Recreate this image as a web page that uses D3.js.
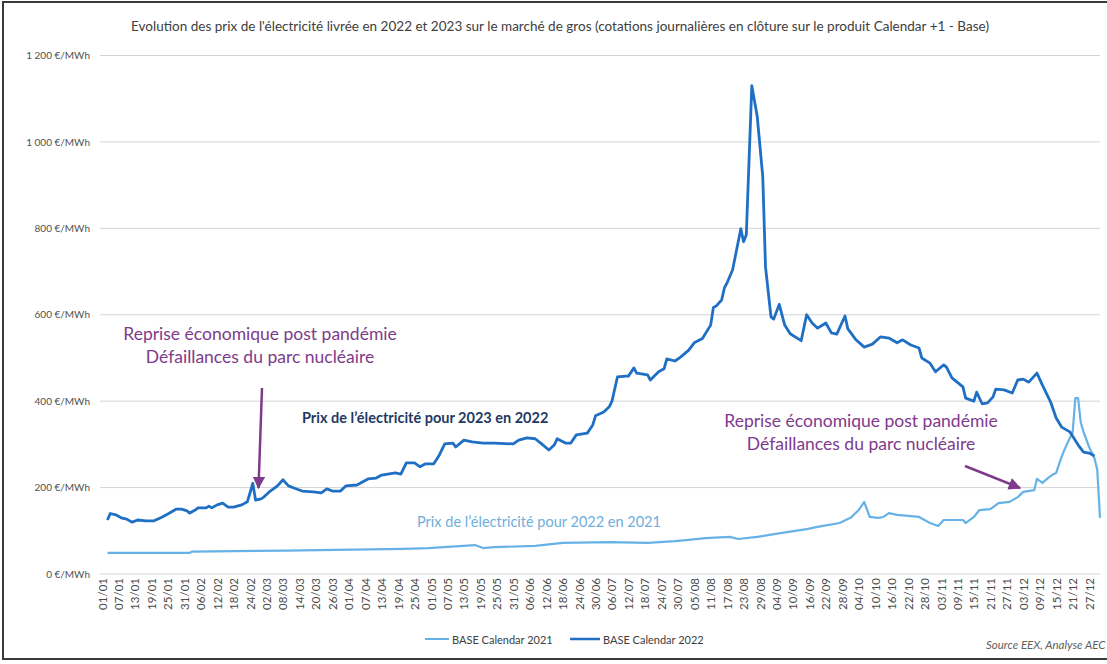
<!DOCTYPE html>
<html><head><meta charset="utf-8">
<script src="https://cdn.jsdelivr.net/npm/d3@7/dist/d3.min.js"></script>
<style>
body{margin:0;background:#fff;}
svg{display:block;font-family:Lato,'Open Sans',sans-serif;}
</style></head>
<body><svg id="chart" width="1107" height="664"></svg>
<script>
const chartTitle = "Evolution des prix de l'électricité livrée en 2022 et 2023 sur le marché de gros (cotations journalières en clôture sur le produit Calendar +1 - Base)";
const yTickValues = [0, 200, 400, 600, 800, 1000, 1200];
const yTickLabels = ["0 €/MWh", "200 €/MWh", "400 €/MWh", "600 €/MWh", "800 €/MWh", "1 000 €/MWh", "1 200 €/MWh"];
const xTickLabels = ["01/01","07/01","13/01","19/01","25/01","31/01","06/02","12/02","18/02","24/02","02/03","08/03","14/03","20/03","26/03","01/04","07/04","13/04","19/04","25/04","01/05","07/05","13/05","19/05","25/05","31/05","06/06","12/06","18/06","24/06","30/06","06/07","12/07","18/07","24/07","30/07","05/08","11/08","17/08","23/08","29/08","04/09","10/09","16/09","22/09","28/09","04/10","10/10","16/10","22/10","28/10","03/11","09/11","15/11","21/11","27/11","03/12","09/12","15/12","21/12","27/12"];
const seriesNames = ["BASE Calendar 2021", "BASE Calendar 2022"];

// BASE Calendar 2022 (prix 2023 coté en 2022)
const cal2022Dates = ["03/01","04/01","06/01","08/01","10/01","12/01","14/01","17/01","20/01","23/01","25/01","28/01","30/01","01/02","02/02","04/02","05/02","08/02","09/02","10/02","12/02","14/02","16/02","18/02","21/02","23/02","24/02","25/02","26/02","28/02","01/03","03/03","06/03","08/03","10/03","12/03","15/03","19/03","22/03","24/03","26/03","29/03","31/03","04/04","08/04","11/04","13/04","18/04","20/04","22/04","25/04","27/04","29/04","02/05","04/05","06/05","09/05","10/05","13/05","16/05","20/05","24/05","31/05","02/06","05/06","08/06","10/06","13/06","15/06","16/06","19/06","21/06","23/06","27/06","29/06","30/06","03/07","05/07","06/07","08/07","11/07","12/07","14/07","15/07","19/07","20/07","23/07","25/07","26/07","29/07","31/07","03/08","05/08","08/08","11/08","12/08","13/08","15/08","16/08","17/08","19/08","22/08","23/08","24/08","26/08","28/08","30/08","31/08","02/09","03/09","05/09","07/09","09/09","13/09","15/09","17/09","19/09","22/09","24/09","26/09","29/09","30/09","03/10","06/10","09/10","12/10","15/10","18/10","20/10","23/10","26/10","27/10","30/10","01/11","04/11","05/11","07/11","11/11","12/11","15/11","16/11","18/11","20/11","22/11","23/11","26/11","29/11","01/12","03/12","05/12","08/12","10/12","13/12","15/12","17/12","20/12","23/12","25/12","27/12","29/12"];
const cal2022Values = [125,140,137,130,127,120,125,123,123,132,139,150,150,146,141,148,153,153,157,153,160,164,155,155,160,167,188,210,171,174,178,190,204,218,204,199,192,190,188,197,192,192,204,206,220,222,229,234,231,257,257,248,255,255,275,301,303,294,310,306,303,303,301,310,315,313,303,287,299,313,303,303,322,326,345,366,375,387,400,456,458,458,477,465,461,449,468,475,498,493,502,518,535,545,576,617,620,634,662,674,704,799,769,785,1130,1058,919,711,595,590,624,576,556,540,600,581,569,581,558,555,597,568,542,525,532,549,546,535,542,530,523,500,488,468,484,479,454,433,407,400,421,394,396,410,428,426,419,449,451,444,465,437,398,361,340,329,299,282,280,273];

// BASE Calendar 2021 (prix 2022 coté en 2021)
const cal2021Dates = ["03/01","02/02","03/02","09/03","21/04","30/04","17/05","20/05","24/05","08/06","18/06","05/07","19/07","29/07","03/08","09/08","18/08","21/08","28/08","06/09","15/09","19/09","27/09","01/10","04/10","06/10","08/10","11/10","13/10","15/10","18/10","23/10","26/10","30/10","02/11","04/11","07/11","11/11","12/11","15/11","17/11","21/11","24/11","28/11","01/12","03/12","07/12","08/12","10/12","12/12","14/12","15/12","17/12","18/12","20/12","21/12","22/12","23/12","24/12","25/12","27/12","29/12","30/12","31/12"];
const cal2021Values = [49,49,52,54,58,60,67,60,62,65,72,74,72,76,79,83,86,81,86,95,104,109,118,130,148,167,132,130,132,141,137,134,132,118,111,125,125,125,118,132,148,150,164,167,178,190,194,220,211,222,231,234,271,287,315,326,407,407,350,329,294,268,241,130];

const annotLeft = ["Reprise économique post pandémie", "Défaillances du parc nucléaire"];
const annotRight = ["Reprise économique post pandémie", "Défaillances du parc nucléaire"];
const label2023 = "Prix de l\u2019électricité pour 2023 en 2022";
const label2022 = "Prix de l\u2019électricité pour 2022 en 2021";
const sourceText = "Source EEX, Analyse AEC";

const parse = d3.timeParse("%d/%m/%Y");
const toDate = s => parse(s + "/2022");
const s2022 = cal2022Dates.map((d, i) => ({date: toDate(d), v: cal2022Values[i]}));
const s2021 = cal2021Dates.map((d, i) => ({date: toDate(d), v: cal2021Values[i]}));

const svg = d3.select("#chart");
const W = 1107, H = 664;
const pLeft = 102, pRight = 1100, pTop = 55.5, pBottom = 574;

const x = d3.scaleTime().domain([toDate("01/01"), toDate("31/12")]).range([pLeft, pRight]);
const y = d3.scaleLinear().domain([0, 1200]).range([pBottom, pTop]);

const purple = "#7e3b8c";
const darkBlue = "#1f6fc4";
const lightBlue = "#66b2e6";

// frame
svg.append("rect").attr("x", 3).attr("y", 2).attr("width", W + 5).attr("height", 657)
  .attr("fill", "none").attr("stroke", "#3a3a3a").attr("stroke-width", 2);

// title
svg.append("text").attr("x", 560).attr("y", 31).attr("text-anchor", "middle")
  .attr("font-size", 12.5).attr("fill", "#404040")
  .attr("textLength", 858).attr("lengthAdjust", "spacingAndGlyphs")
  .text(chartTitle);

// gridlines
svg.append("g").selectAll("line").data(yTickValues).join("line")
  .attr("x1", pLeft - 2).attr("x2", pRight).attr("y1", d => y(d)).attr("y2", d => y(d))
  .attr("stroke", "#d4d4d4").attr("stroke-width", 1);

// y axis
const yAxis = d3.axisLeft(y).tickValues(yTickValues)
  .tickFormat((d, i) => yTickLabels[i]).tickSize(0).tickPadding(0);
const gy = svg.append("g").attr("transform", `translate(90,0)`).call(yAxis);
gy.select(".domain").remove();
gy.selectAll("text").attr("font-family", "Lato,'Open Sans',sans-serif").attr("font-size", 10).attr("fill", "#505050");

// x axis
const xTickDates = xTickLabels.map(toDate);
const xAxis = d3.axisBottom(x).tickValues(xTickDates)
  .tickFormat((d, i) => xTickLabels[i]).tickSize(0);
const gx = svg.append("g").attr("transform", `translate(0,${pBottom})`).call(xAxis);
gx.select(".domain").remove();
gx.selectAll("text")
  .attr("font-family", "Lato,'Open Sans',sans-serif").attr("font-size", 11.5).attr("fill", "#4a4a4a")
  .attr("transform", "rotate(-90)").attr("x", -4).attr("y", 0).attr("dy", "0.35em")
  .style("text-anchor", "end");

// lines
const line = d3.line().x(d => x(d.date)).y(d => y(d.v));
svg.append("path").datum(s2021).attr("d", line).attr("fill", "none")
  .attr("stroke", lightBlue).attr("stroke-width", 2.2).attr("stroke-linejoin", "round");
svg.append("path").datum(s2022).attr("d", line).attr("fill", "none")
  .attr("stroke", darkBlue).attr("stroke-width", 2.8).attr("stroke-linejoin", "round");

// arrow marker
const defs = svg.append("defs");
defs.append("marker").attr("id", "arr").attr("viewBox", "0 0 10 10").attr("refX", 9).attr("refY", 5)
  .attr("markerWidth", 5).attr("markerHeight", 5).attr("markerUnits", "strokeWidth").attr("orient", "auto")
  .append("path").attr("d", "M0,0 L10,5 L0,10 Z").attr("fill", purple);

// annotations
function annot(lines, cx, cy) {
  svg.append("g").selectAll("text").data(lines).join("text")
    .attr("x", cx).attr("y", (d, i) => cy + i * 23).attr("text-anchor", "middle")
    .attr("dominant-baseline", "central").attr("font-size", 17.5).attr("fill", purple).text(d => d);
}
annot(annotLeft, 260, 333);
annot(annotRight, 861, 420);

svg.append("line").attr("x1", 262).attr("y1", 388).attr("x2", 258.5).attr("y2", 488)
  .attr("stroke", purple).attr("stroke-width", 2.5).attr("marker-end", "url(#arr)");
svg.append("line").attr("x1", 965).attr("y1", 466).attr("x2", 1020).attr("y2", 488)
  .attr("stroke", purple).attr("stroke-width", 2.5).attr("marker-end", "url(#arr)");

svg.append("text").attr("x", 302).attr("y", 417).attr("dominant-baseline", "central")
  .attr("font-size", 14.5).attr("font-weight", "bold").attr("fill", "#1f3864").text(label2023);
svg.append("text").attr("x", 417).attr("y", 521).attr("dominant-baseline", "central")
  .attr("font-size", 14.5).attr("fill", "#6eaedc").text(label2022);

// legend
const legend = svg.append("g").attr("transform", "translate(0,639)");
const legItems = [{name: seriesNames[0], c: lightBlue, x1: 425, x2: 449, w: 2}, {name: seriesNames[1], c: darkBlue, x1: 570, x2: 600, w: 2.5}];
legItems.forEach(it => {
  legend.append("line").attr("x1", it.x1).attr("x2", it.x2).attr("y1", 0).attr("y2", 0)
    .attr("stroke", it.c).attr("stroke-width", it.w);
  legend.append("text").attr("x", it.x2 + 3).attr("y", 0).attr("dominant-baseline", "central")
    .attr("font-size", 11).attr("fill", "#404040").text(it.name);
});

// source
svg.append("text").attr("x", 986).attr("y", 644).attr("dominant-baseline", "central")
  .attr("font-size", 11.5).attr("font-style", "italic").attr("fill", "#606060").text(sourceText);
</script>
</body></html>
